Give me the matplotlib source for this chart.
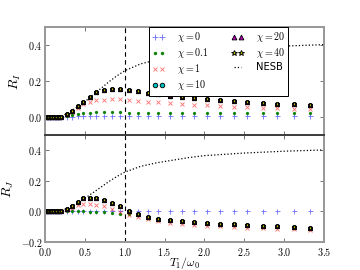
import matplotlib
matplotlib.use("Agg")
import matplotlib.pyplot as plt
import numpy as np

plt.rcParams['mathtext.fontset'] = 'cm'
plt.rcParams['font.family'] = ['DejaVu Sans']

# ---- data ----
x = [0.0, 0.02, 0.04, 0.06, 0.08, 0.10, 0.12, 0.14, 0.16, 0.18, 0.20,
     0.27, 0.34, 0.41, 0.48, 0.56, 0.645, 0.738, 0.835, 0.94, 1.056, 1.17,
     1.29, 1.42, 1.573, 1.72, 1.87, 2.03, 2.19, 2.37, 2.54, 2.73, 2.915,
     3.12, 3.32, 3.515]

top_chi0 = [0.0]*11 + [0.001, 0.002, 0.003, 0.003, 0.003, 0.003, 0.003, 0.003,
                       0.003, 0.003, 0.003, 0.003, 0.003, 0.003, 0.003, 0.003,
                       0.003, 0.003, 0.003, 0.003, 0.003, 0.003, 0.003, 0.003, 0.003]
top_chi01 = [0.0]*11 + [0.005, 0.012, 0.019, 0.023, 0.025, 0.026, 0.026, 0.026,
                        0.026, 0.025, 0.025, 0.025, 0.025, 0.024, 0.024, 0.024,
                        0.024, 0.024, 0.024, 0.024, 0.024, 0.024, 0.024, 0.024, 0.024]
top_chi1 = [0.0]*11 + [0.012, 0.03, 0.05, 0.07, 0.085, 0.093, 0.096, 0.1,
                       0.1, 0.096, 0.09, 0.086, 0.083, 0.078, 0.072, 0.068,
                       0.065, 0.061, 0.058, 0.055, 0.052, 0.05, 0.047, 0.044, 0.042]
top_chi10 = [0.0]*11 + [0.016, 0.036, 0.06, 0.084, 0.112, 0.138, 0.152, 0.156,
                        0.156, 0.152, 0.145, 0.136, 0.126, 0.119, 0.112, 0.105,
                        0.099, 0.094, 0.088, 0.084, 0.079, 0.075, 0.071, 0.067, 0.063]
top_chi20 = top_chi10
top_chi40 = top_chi10

bot_chi0 = [0.0]*36
bot_chi01 = [0.0]*11 + [0.0, 0.0, 0.0, 0.0, -0.001, -0.002, -0.004, -0.008,
                        -0.014, -0.02, -0.026, -0.034, -0.048, -0.056, -0.065,
                        -0.071, -0.076, -0.08, -0.085, -0.089, -0.093, -0.098,
                        -0.102, -0.106, -0.11]
bot_chi1 = [0.0]*11 + [0.01, 0.025, 0.04, 0.047, 0.048, 0.044, 0.033, 0.015,
                       -0.005, -0.022, -0.038, -0.052, -0.065, -0.076, -0.085,
                       -0.089, -0.093, -0.098, -0.102, -0.106, -0.11, -0.114,
                       -0.117, -0.12, -0.122]
bot_chi10 = [0.0]*11 + [0.015, 0.035, 0.062, 0.087, 0.091, 0.091, 0.076, 0.057,
                        0.033, 0.006, -0.014, -0.034, -0.048, -0.056, -0.065,
                        -0.071, -0.076, -0.08, -0.085, -0.089, -0.093, -0.098,
                        -0.102, -0.106, -0.11]
bot_chi20 = bot_chi10
bot_chi40 = bot_chi10

x_nesb = [0.0, 0.1, 0.2, 0.3, 0.4, 0.5, 0.6, 0.7, 0.8, 0.9, 1.0, 1.2, 1.4,
          1.6, 1.8, 2.0, 2.5, 3.0, 3.5]
y_nesb = [0.0, 0.0, 0.003, 0.025, 0.055, 0.085, 0.122, 0.158, 0.195, 0.228,
          0.257, 0.295, 0.318, 0.335, 0.352, 0.365, 0.382, 0.394, 0.402]

labels = [r'$\chi = 0$', r'$\chi = 0.1$', r'$\chi = 1$', r'$\chi = 10$',
          r'$\chi = 20$', r'$\chi = 40$']
xticks = [0.0, 0.5, 1.0, 1.5, 2.0, 2.5, 3.0, 3.5]

fig = plt.figure(figsize=(4, 3), dpi=90)
ax1 = fig.add_axes([0.125, 0.5, 0.775, 0.4])
ax2 = fig.add_axes([0.125, 0.1037, 0.775, 0.3963])

styles = [
    dict(marker='+', color='b', ls='none', ms=4, mew=0.7, alpha=0.55),
    dict(marker='.', color='g', ls='none', ms=3.2, mec='g', alpha=0.9),
    dict(marker='x', color='r', ls='none', ms=3.3, mew=0.7, alpha=0.55),
    dict(marker='o', color='c', ls='none', ms=3.3, mec='k', mew=0.7),
    dict(marker='^', color='m', ls='none', ms=3.5, mec='k', mew=0.7),
    dict(marker='*', color='y', ls='none', ms=4, mec='k', mew=0.7),
]

def panel(ax, series, ylab, ylim, yticks, show_x):
    handles = []
    for s, st, lab in zip(series, styles, labels):
        h, = ax.plot(x, s, label=lab, clip_on=True, **st)
        handles.append(h)
    hn, = ax.plot(x_nesb, y_nesb, ls=':', color='k', lw=1.0, label='NESB')
    handles.append(hn)
    ax.axvline(1.0, color='k', ls='--', lw=0.9, dashes=(4, 3))
    ax.set_xlim(0, 3.5)
    ax.set_ylim(*ylim)
    ax.set_xticks(xticks)
    ax.set_yticks(yticks)
    ax.set_yticklabels([r'$%.1f$' % v if v >= 0 else r'$-%.1f$' % abs(v) for v in yticks],
                       fontsize=8)
    if show_x:
        ax.set_xticklabels([r'$%.1f$' % v for v in xticks], fontsize=8)
    else:
        ax.set_xticklabels([])
    ax.tick_params(direction='in', top=True, right=True, length=3.5,
                   width=0.6, color='0.3', pad=2)
    ax.set_ylabel(ylab, fontsize=11)
    for sp in ax.spines.values():
        sp.set_color('0.6')
        sp.set_linewidth(1.6)
    return handles

h = panel(ax1, [top_chi0, top_chi01, top_chi1, top_chi10, top_chi20, top_chi40],
          r'$R_I$', (-0.1, 0.5), [0.0, 0.2, 0.4], False)
panel(ax2, [bot_chi0, bot_chi01, bot_chi1, bot_chi10, bot_chi20, bot_chi40],
      r'$R_J$', (-0.2, 0.5), [-0.2, 0.0, 0.2, 0.4], True)
ax2.tick_params(axis='x', pad=3)
ax1.spines['bottom'].set_color('0.25')
ax2.spines['top'].set_color('0.25')
ax2.set_xlabel(r'$T_1/\omega_0$', fontsize=9.5)
ax2.xaxis.set_label_coords(0.5, -0.193)
ax2.xaxis.label.set_va('center')

leg = ax1.legend(handles=h, ncol=2, loc='upper right',
                 bbox_to_anchor=(0.872, 1.0), borderaxespad=0.0,
                 fontsize=8, numpoints=2, fancybox=False, framealpha=1,
                 edgecolor='k', handlelength=1.3, columnspacing=2.2,
                 labelspacing=0.2, handletextpad=1.2, borderpad=0.35,
                 markerscale=1.1)
leg.get_frame().set_linewidth(0.8)

fig.savefig('out.png', dpi=90)
